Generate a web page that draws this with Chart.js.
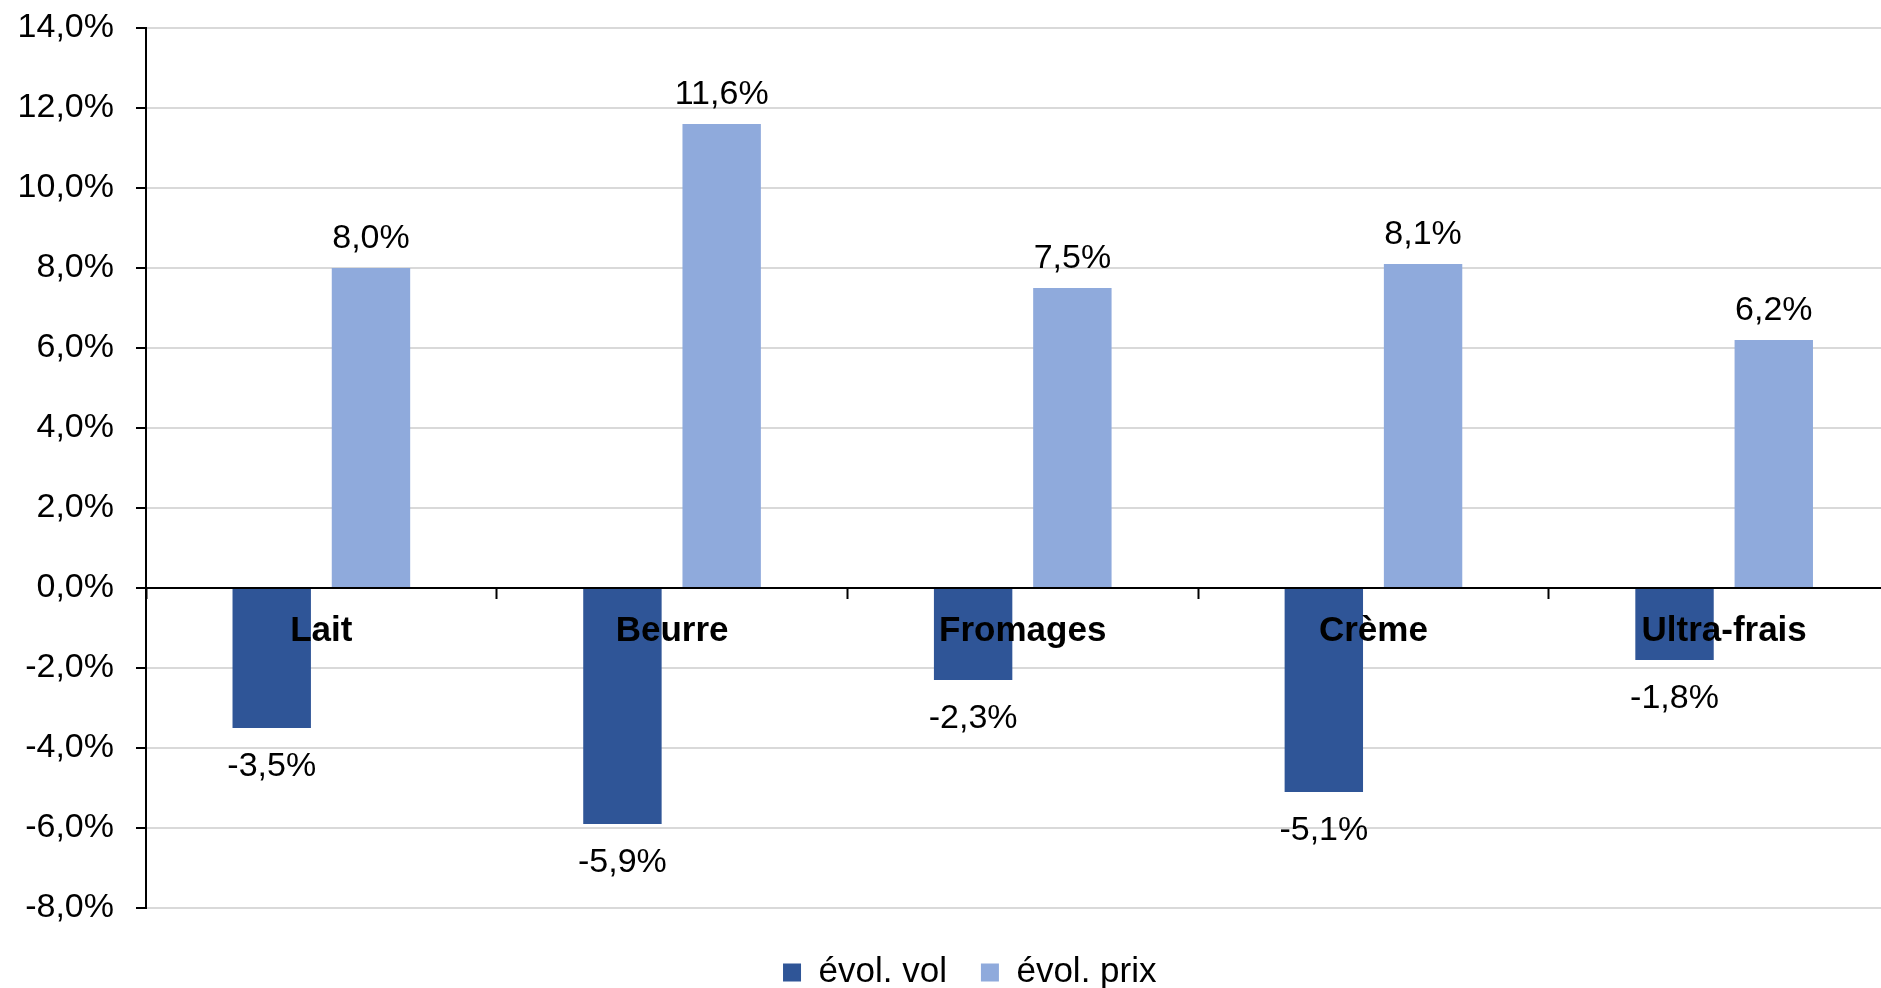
<!DOCTYPE html>
<html>
<head>
<meta charset="utf-8">
<script src="https://cdn.jsdelivr.net/npm/chart.js@4"></script>
<style>
  body { margin: 0; background: #fff; overflow: hidden; }
  #wrap { width: 1940px; height: 988px; }
</style>
</head>
<body>
<div id="wrap"><canvas id="myChart"></canvas></div>
<script>
const categories = ["Lait", "Beurre", "Fromages", "Crème", "Ultra-frais"];
const volValues = [-3.5, -5.9, -2.3, -5.1, -1.8];
const prixValues = [8.0, 11.6, 7.5, 8.1, 6.2];
const seriesNames = ["évol. vol", "évol. prix"];

const FONT = '"Liberation Sans", Arial, sans-serif';
const fmt = (v) => v.toFixed(1).replace(".", ",") + "%";

Chart.defaults.color = "#000";
Chart.defaults.font.family = FONT;
Chart.defaults.font.size = 34;

// labels above / below each bar
const valueLabels = {
  id: "valueLabels",
  afterDatasetsDraw(chart) {
    const ctx = chart.ctx;
    ctx.save();
    ctx.font = "34px " + FONT;
    ctx.fillStyle = "#000";
    ctx.textAlign = "center";
    ctx.textBaseline = "alphabetic";
    chart.data.datasets.forEach((ds, i) => {
      chart.getDatasetMeta(i).data.forEach((bar, j) => {
        const v = ds.data[j];
        const y = v >= 0 ? bar.y - 20 : bar.y + 48;
        ctx.fillText(fmt(v), bar.x, y);
      });
    });
    ctx.restore();
  },
};

// nudge the legend a bit right and down
const legendShift = {
  id: "legendShift",
  afterLayout(chart) {
    const lg = chart.legend;
    lg.left += 20;
    lg.right += 20;
    lg.top += 13;
    lg.bottom += 13;
  },
};

const ctx = document.getElementById("myChart").getContext("2d");
const myChart = new Chart(ctx, {
  type: "bar",
  data: {
    labels: categories,
    datasets: [
      {
        label: seriesNames[0],
        data: volValues,
        backgroundColor: "#2F5597",
        borderWidth: 0,
        categoryPercentage: 0.566,
        barPercentage: 0.79,
      },
      {
        label: seriesNames[1],
        data: prixValues,
        backgroundColor: "#8FAADC",
        borderWidth: 0,
        categoryPercentage: 0.566,
        barPercentage: 0.79,
      },
    ],
  },
  options: {
    responsive: true,
    maintainAspectRatio: false,
    animation: false,
    layout: { padding: { top: 28, right: 40.5, bottom: 1, left: 0 } },
    plugins: {
      tooltip: { enabled: false },
      legend: {
        position: "bottom",
        labels: {
          boxWidth: 18,
          boxHeight: 18,
          padding: 34,
          font: { size: 35 },
        },
      },
    },
    scales: {
      x: {
        position: { y: 0 },
        afterFit: (s) => {
          s.height = 20;
          s.paddingLeft = 0;
          s.paddingRight = 0;
        },
        grid: {
          offset: true,
          drawOnChartArea: false,
          tickLength: 10,
          tickColor: "#000",
          tickWidth: 2,
        },
        border: { color: "#000", width: 2, z: 1 },
        ticks: {
          padding: 12,
          z: 1,
          font: { size: 35, weight: "bold" },
        },
      },
      y: {
        min: -8,
        max: 14,
        afterFit: (s) => {
          s.width = 146;
          s.paddingTop = 0;
          s.paddingBottom = 0;
        },
        ticks: {
          stepSize: 2,
          padding: 22,
          callback: (v) => fmt(v),
        },
        grid: {
          color: "#d9d9d9",
          lineWidth: 2,
          tickColor: "#000",
          tickLength: 10,
        },
        border: { color: "#000", width: 2 },
      },
    },
  },
  plugins: [valueLabels, legendShift],
});
</script>
</body>
</html>
